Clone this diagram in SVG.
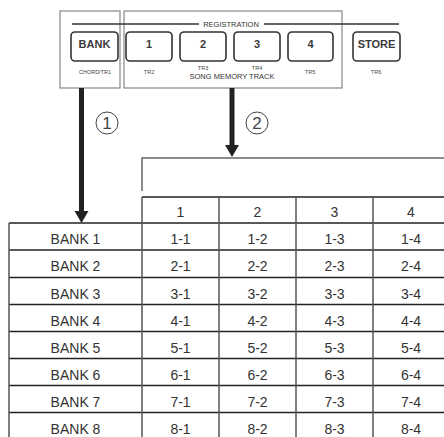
<svg xmlns="http://www.w3.org/2000/svg" width="444" height="437" viewBox="0 0 444 437">
<style>
.frame{fill:none;stroke:#888;stroke-width:1.2}
.btn{fill:#fff;stroke:#333;stroke-width:1.6}
.bl{font-family:"Liberation Sans",Arial,sans-serif;font-size:11px;font-weight:bold;fill:#3a3a3a;text-anchor:middle}
.sm{font-family:"Liberation Sans",Arial,sans-serif;font-size:5.5px;fill:#444;text-anchor:middle}
.md{font-family:"Liberation Sans",Arial,sans-serif;font-size:7.5px;fill:#333;text-anchor:middle}
.t{font-family:"Liberation Sans",Arial,sans-serif;font-size:14px;fill:#333;text-anchor:middle}
.hl{stroke:#222;stroke-width:1.5}
.vl{stroke:#555;stroke-width:1.5}
.circ{fill:none;stroke:#444;stroke-width:1}
.cn{font-family:"Liberation Sans",Arial,sans-serif;font-size:17px;fill:#444;text-anchor:middle}
</style>
<g id="panel">
<rect class="frame" x="60" y="11" width="60" height="77"/>
<rect class="frame" x="124" y="11" width="218" height="77"/>
<line x1="72" y1="24" x2="199" y2="24" stroke="#333" stroke-width="1.3"/>
<line x1="264" y1="24" x2="399" y2="24" stroke="#333" stroke-width="1.3"/>
<text class="md" x="231" y="26.5">REGISTRATION</text>
</g>
<g id="btn-bank"><rect class="btn" x="71" y="32" width="47" height="29" rx="4"/><text class="bl" x="94.5" y="48">BANK</text><text class="sm" x="95" y="74">CHORD/TR1</text></g>
<g id="btn-1"><rect class="btn" x="126" y="32" width="46" height="29" rx="4"/><text class="bl" x="149" y="48">1</text><text class="sm" x="149" y="74">TR2</text></g>
<g id="btn-2"><rect class="btn" x="180" y="32" width="46" height="29" rx="4"/><text class="bl" x="203" y="48">2</text><text class="sm" x="203" y="70">TR3</text></g>
<g id="btn-3"><rect class="btn" x="234" y="32" width="46" height="29" rx="4"/><text class="bl" x="257" y="48">3</text><text class="sm" x="257" y="70">TR4</text></g>
<g id="btn-4"><rect class="btn" x="288" y="32" width="45" height="29" rx="4"/><text class="bl" x="310.5" y="48">4</text><text class="sm" x="310" y="74">TR5</text></g>
<g id="btn-store"><rect class="btn" x="353" y="32" width="47" height="29" rx="4"/><text class="bl" x="376.5" y="48">STORE</text><text class="sm" x="376" y="74">TR6</text></g>
<text class="md" x="232" y="79">SONG MEMORY TRACK</text>
<g id="connectors">
<line x1="81.5" y1="88" x2="81.5" y2="212" stroke="#222" stroke-width="5"/>
<polygon points="74.5,211 88.5,211 81.5,223" fill="#222"/>
<line x1="232" y1="88" x2="232" y2="146" stroke="#222" stroke-width="5"/>
<polygon points="225,145 239,145 232,157" fill="#222"/>
<polyline points="142,191 142,158 444,158" fill="none" stroke="#666" stroke-width="1.5"/>
</g>
<g id="labels">
<circle class="circ" cx="107" cy="123" r="11"/><text class="cn" x="107" y="129">1</text>
<circle class="circ" cx="257" cy="123" r="11"/><text class="cn" x="257" y="129">2</text>
</g>
<g id="table">
<line class="hl" x1="142" y1="197" x2="444" y2="197"/>
<line class="hl" x1="9" y1="223" x2="444" y2="223"/>
<line class="hl" x1="9" y1="250" x2="444" y2="250"/>
<line class="hl" x1="9" y1="277.5" x2="444" y2="277.5"/>
<line class="hl" x1="9" y1="304.5" x2="444" y2="304.5"/>
<line class="hl" x1="9" y1="331.5" x2="444" y2="331.5"/>
<line class="hl" x1="9" y1="358.5" x2="444" y2="358.5"/>
<line class="hl" x1="9" y1="385.5" x2="444" y2="385.5"/>
<line class="hl" x1="9" y1="412.5" x2="444" y2="412.5"/>
<line class="vl" x1="9" y1="223" x2="9" y2="437"/>
<line class="vl" x1="142" y1="197" x2="142" y2="437"/>
<line class="vl" x1="219" y1="197" x2="219" y2="437"/>
<line class="vl" x1="296" y1="197" x2="296" y2="437"/>
<line class="vl" x1="373" y1="197" x2="373" y2="437"/>
<text class="t" x="180.5" y="217">1</text><text class="t" x="257.5" y="217">2</text><text class="t" x="334.5" y="217">3</text><text class="t" x="411" y="217">4</text>
<text class="t" x="75.5" y="244">BANK 1</text><text class="t" x="180.5" y="244">1-1</text><text class="t" x="257.5" y="244">1-2</text><text class="t" x="334.5" y="244">1-3</text><text class="t" x="411" y="244">1-4</text>
<text class="t" x="75.5" y="271">BANK 2</text><text class="t" x="180.5" y="271">2-1</text><text class="t" x="257.5" y="271">2-2</text><text class="t" x="334.5" y="271">2-3</text><text class="t" x="411" y="271">2-4</text>
<text class="t" x="75.5" y="298.5">BANK 3</text><text class="t" x="180.5" y="298.5">3-1</text><text class="t" x="257.5" y="298.5">3-2</text><text class="t" x="334.5" y="298.5">3-3</text><text class="t" x="411" y="298.5">3-4</text>
<text class="t" x="75.5" y="325.5">BANK 4</text><text class="t" x="180.5" y="325.5">4-1</text><text class="t" x="257.5" y="325.5">4-2</text><text class="t" x="334.5" y="325.5">4-3</text><text class="t" x="411" y="325.5">4-4</text>
<text class="t" x="75.5" y="352.5">BANK 5</text><text class="t" x="180.5" y="352.5">5-1</text><text class="t" x="257.5" y="352.5">5-2</text><text class="t" x="334.5" y="352.5">5-3</text><text class="t" x="411" y="352.5">5-4</text>
<text class="t" x="75.5" y="379.5">BANK 6</text><text class="t" x="180.5" y="379.5">6-1</text><text class="t" x="257.5" y="379.5">6-2</text><text class="t" x="334.5" y="379.5">6-3</text><text class="t" x="411" y="379.5">6-4</text>
<text class="t" x="75.5" y="406.5">BANK 7</text><text class="t" x="180.5" y="406.5">7-1</text><text class="t" x="257.5" y="406.5">7-2</text><text class="t" x="334.5" y="406.5">7-3</text><text class="t" x="411" y="406.5">7-4</text>
<text class="t" x="75.5" y="433.5">BANK 8</text><text class="t" x="180.5" y="433.5">8-1</text><text class="t" x="257.5" y="433.5">8-2</text><text class="t" x="334.5" y="433.5">8-3</text><text class="t" x="411" y="433.5">8-4</text>
</g>
</svg>
